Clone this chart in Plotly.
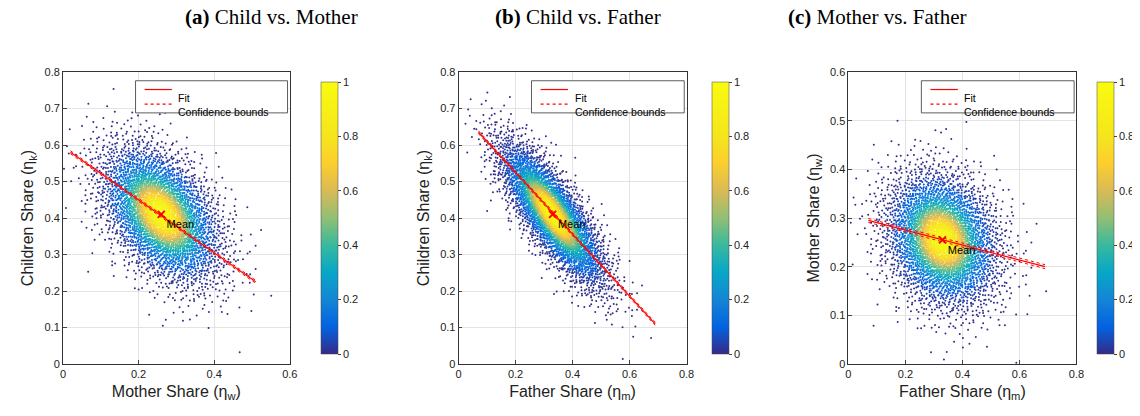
import numpy as np
import plotly.graph_objects as go
from plotly.subplots import make_subplots

titles = ["<b>(a)</b> Child vs. Mother", "<b>(b)</b> Child vs. Father", "<b>(c)</b> Mother vs. Father"]
xlabels = ["Mother Share (η<sub>w</sub>)", "Father Share (η<sub>m</sub>)", "Father Share (η<sub>m</sub>)"]
ylabels = ["Children Share (η<sub>k</sub>)", "Children Share (η<sub>k</sub>)", "Mother Share (η<sub>w</sub>)"]
# cloud summary: mean x, mean y, sd x, sd y, correlation
means = [(0.26, 0.41), (0.33, 0.41), (0.33, 0.255)]
sds = [(0.08, 0.095), (0.095, 0.1), (0.1, 0.07)]
corrs = [-0.45, -0.8, -0.2]
fit_x = [(0.02, 0.51), (0.07, 0.69), (0.07, 0.69)]
fit_y = [(0.58, 0.225), (0.635, 0.11), (0.295, 0.2)]
xranges = [(0, 0.6), (0, 0.8), (0, 0.8)]
yranges = [(0, 0.8), (0, 0.8), (0, 0.6)]
xticks = [[0, 0.2, 0.4, 0.6], [0, 0.2, 0.4, 0.6, 0.8], [0, 0.2, 0.4, 0.6, 0.8]]
yticks = [[0, 0.1, 0.2, 0.3, 0.4, 0.5, 0.6, 0.7, 0.8]] * 2 + [[0, 0.1, 0.2, 0.3, 0.4, 0.5, 0.6]]
N = 4000

def halton(n, b):
    out = np.zeros(n)
    for i in range(n):
        f, r, k = 1.0, 0.0, i + 1
        while k > 0:
            f /= b; r += f * (k % b); k //= b
        out[i] = r
    return out

u1, u2 = halton(N, 2), halton(N, 3)
z1 = np.sqrt(-2 * np.log(u1)) * np.cos(2 * np.pi * u2)
z2 = np.sqrt(-2 * np.log(u1)) * np.sin(2 * np.pi * u2)

parula = [[0, "#352a87"], [0.1, "#0363e1"], [0.2, "#1485d4"], [0.3, "#06a7c6"], [0.4, "#38b99e"],
          [0.5, "#92bf73"], [0.6, "#d9ba56"], [0.7, "#fcce2e"], [0.8, "#f5e51c"], [1, "#f9fb0e"]]

fig = make_subplots(rows=1, cols=3, horizontal_spacing=0.12)
sh = -0.0088
doms = [(0.057 + sh, 0.256 + sh), (0.404 + sh, 0.604 + sh), (0.746 + sh, 0.946 + sh)]
cbx = [0.275 + sh, 0.618 + sh, 0.955 + sh]
tcx = [0.162 + sh, 0.509 + sh, 0.851 + sh]
for i in range(3):
    mx, my = means[i]; sx, sy = sds[i]; r = corrs[i]
    x = mx + sx * z1
    y = my + sy * (r * z1 + np.sqrt(1 - r * r) * z2)
    d = np.exp(-0.5 * (z1 ** 2 + z2 ** 2))
    c = d ** 2
    fig.add_trace(go.Scatter(x=x, y=y, mode="markers",
                             marker=dict(size=2, color=c, colorscale=parula, cmin=0, cmax=1, line=dict(width=0),
                                         colorbar=dict(x=cbx[i], xanchor="left", y=0.5, len=1, yanchor="middle",
                                                       thickness=17, tickvals=[0, 0.2, 0.4, 0.6, 0.8, 1],
                                                       ticktext=["0", "0.2", "0.4", "0.6", "0.8", "1"],
                                                       outlinecolor="#444", outlinewidth=0.5, ticklen=3,
                                                       tickfont=dict(size=11, family="Liberation Sans"))),
                             showlegend=False), 1, i + 1)
    fx = np.array(fit_x[i]); fy = np.array(fit_y[i])
    for off in (-0.004, 0.004):
        fig.add_trace(go.Scatter(x=fx, y=fy + off, mode="lines", line=dict(color="red", width=1, dash="dot"),
                                 showlegend=False), 1, i + 1)
    fig.add_trace(go.Scatter(x=fx, y=fy, mode="lines", line=dict(color="red", width=1.2), showlegend=False), 1, i + 1)
    fig.add_trace(go.Scatter(x=[mx], y=[my], mode="markers+text", text=["Mean"], textposition="bottom right",
                             textfont=dict(size=11, color="black", family="Liberation Sans"),
                             marker=dict(symbol="x-thin", size=7, line=dict(color="red", width=2)),
                             showlegend=False), 1, i + 1)
    xa = "x" if i == 0 else f"x{i+1}"; ya = "y" if i == 0 else f"y{i+1}"
    fig.update_xaxes(range=xranges[i], tickvals=xticks[i], domain=doms[i], title=dict(text=xlabels[i], standoff=6, font=dict(size=16)),
                     row=1, col=i + 1)
    fig.update_yaxes(range=yranges[i], tickvals=yticks[i], title=dict(text=ylabels[i], standoff=6, font=dict(size=16)),
                     row=1, col=i + 1)
    fig.add_shape(type="rect", xref=f"{xa} domain", yref=f"{ya} domain", x0=0.32, x1=0.99, y0=0.86, y1=0.97,
                  line=dict(color="#333", width=0.8), fillcolor="white")
    for yy, dash, lab in ((0.94, "solid", "Fit"), (0.89, "dot", "Confidence bounds")):
        fig.add_shape(type="line", xref=f"{xa} domain", yref=f"{ya} domain", x0=0.36, x1=0.48, y0=yy, y1=yy,
                      line=dict(color="red", width=1.2, dash=dash))
        fig.add_annotation(xref=f"{xa} domain", yref=f"{ya} domain", x=0.5, y=yy, text=lab, showarrow=False,
                           xanchor="left", font=dict(size=10.5, family="Liberation Sans", color="black"))
    fig.add_annotation(xref="paper", yref="paper", x=tcx[i], y=1.19, text=titles[i], yanchor="middle",
                       showarrow=False, font=dict(size=21, family="Liberation Serif", color="black"))

fig.update_xaxes(showline=True, mirror=True, linecolor="#333", linewidth=0.8, ticks="inside", ticklen=4,
                 gridcolor="#e3e3e3", zeroline=False, tickfont=dict(size=11))
fig.update_yaxes(showline=True, mirror=True, linecolor="#333", linewidth=0.8, ticks="inside", ticklen=4,
                 gridcolor="#e3e3e3", zeroline=False, tickfont=dict(size=11))
fig.update_layout(width=1140, height=416, margin=dict(l=0, r=0, t=64, b=60, autoexpand=False), plot_bgcolor="white",
                  paper_bgcolor="white", font=dict(family="Liberation Sans", color="#222"))
fig.write_html("out.html")
